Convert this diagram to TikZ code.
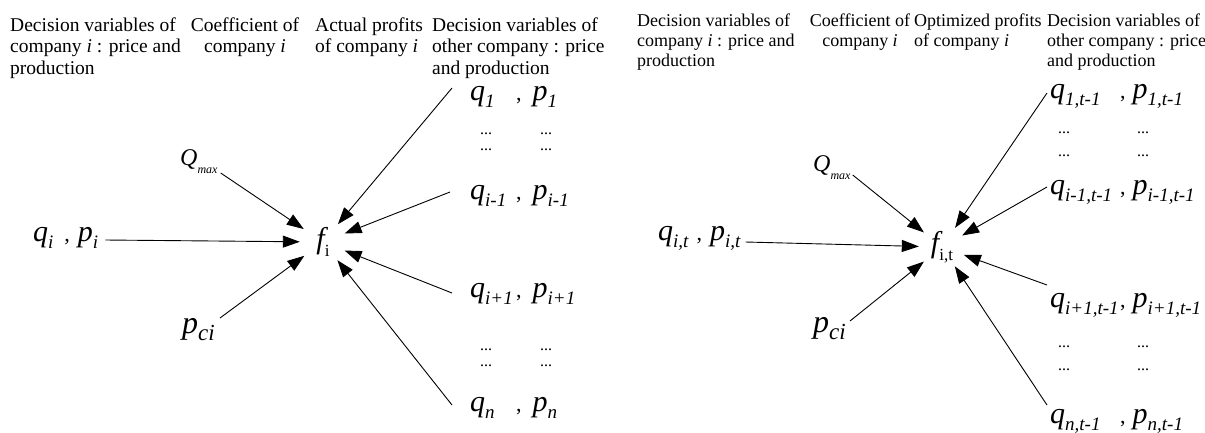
\documentclass[tikz,border=0pt]{standalone}
\usepackage{fontspec}
\setmainfont{Liberation Serif}
\usetikzlibrary{arrows.meta}
\newcommand\mainf{\fontsize{30}{30}\selectfont\itshape}
\newcommand\subf{\fontsize{19}{19}\selectfont\itshape}
\newcommand\qv[1]{{\mainf q}\raisebox{-7pt}{\subf #1}}
\newcommand\pv[1]{{\mainf p}\raisebox{-7pt}{\subf #1}}
\newcommand\cma{{\fontsize{22}{22}\selectfont\upshape ,}}
\newcommand\pairrow[4]{\makebox[#3][l]{\qv{#1}}\cma\hspace{#4}\pv{#2}}
\newcommand\dts{{\fontsize{16}{16}\selectfont ...}}
\newcommand\dotblock[2]{\vtop{\baselineskip=#2\hbox{\makebox[#1][l]{\dts}\dts}\hbox{\makebox[#1][l]{\dts}\dts}}}
\newcommand\fsym[1]{{\mainf f}\raisebox{-8pt}{\fontsize{17}{17}\selectfont\upshape #1}}
\newcommand\Qmx{{\fontsize{24}{24}\selectfont\itshape Q}\raisebox{-8pt}{\fontsize{12}{12}\selectfont\itshape max}}
\newcommand\pci{{\fontsize{32}{32}\selectfont\itshape p}\raisebox{-7pt}{\fontsize{23}{23}\selectfont\itshape ci}}
\tikzset{
  lbl/.style={inner sep=0pt, anchor=base west},
  fnode/.style={circle, minimum size=46pt, inner sep=0pt},
  arr/.style={-{Triangle[length=17pt,width=12pt]}, line width=0.9pt},
  hdrA/.style={inner sep=0pt, font=\fontsize{19.5}{21.5}\selectfont},
  hdrB/.style={inner sep=0pt, font=\fontsize{18}{20}\selectfont},
}
\begin{document}
\begin{tikzpicture}[x=1pt,y=-1pt]
\useasboundingbox (0,0) rectangle (1205,432);
% ---------- left headers
\node[hdrA, anchor=base west] (hA1) at (10,31) {\vtop{\baselineskip=21.5pt\hbox{Decision variables of}\hbox{company \textit{i} : price and}\hbox{production}}};
\node[hdrA, anchor=base] (hA2) at (245,31) {\vtop{\baselineskip=21.5pt\halign{\hfil#\hfil\cr Coefficient of\cr company \textit{i}\cr}}};
\node[hdrA, anchor=base west] (hA3) at (315,31) {\vtop{\baselineskip=21.5pt\hbox{Actual profits}\hbox{of company \textit{i}}}};
\node[hdrA, anchor=base west] (hA4) at (432,31) {\vtop{\baselineskip=21.5pt\hbox{Decision variables of}\hbox{other company : price}\hbox{and production}}};
% ---------- right headers
\node[hdrB, anchor=base west] (hB1) at (637,26) {\vtop{\baselineskip=20pt\hbox{Decision variables of}\hbox{company \textit{i} : price and}\hbox{production}}};
\node[hdrB, anchor=base] (hB2) at (860,26) {\vtop{\baselineskip=20pt\halign{\hfil#\hfil\cr Coefficient of\cr company \textit{i}\cr}}};
\node[hdrB, anchor=base west] (hB3) at (914,26) {\vtop{\baselineskip=20pt\hbox{Optimized profits}\hbox{of company \textit{i}}}};
\node[hdrB, anchor=base west] (hB4) at (1047,26) {\vtop{\baselineskip=20pt\hbox{Decision variables of}\hbox{other company : price}\hbox{and production}}};

% ---------- left diagram
\node[fnode] (f1) at (323,242) {\fsym{i}};
\node[lbl] (in1) at (33,241) {\qv{i}\hspace{11pt}\cma\hspace{8pt}\pv{i}};
\node[lbl] (Q1) at (180,165) {\Qmx};
\node[lbl] (pc1) at (182,333) {\pci};
\node[lbl] (a1) at (470,100) {\pairrow{1}{1}{46pt}{11pt}};
\node[lbl] (da1) at (480,134) {\dotblock{60pt}{16pt}};
\node[lbl] (a2) at (470,199) {\pairrow{i-1}{i-1}{46pt}{11pt}};
\node[lbl] (a3) at (470,297) {\pairrow{i+1}{i+1}{46pt}{11pt}};
\node[lbl] (da2) at (480,350) {\dotblock{60pt}{16pt}};
\node[lbl] (a4) at (470,411) {\pairrow{n}{n}{46pt}{11pt}};

\draw[arr] ([xshift=7pt,yshift=1pt]in1.base east) -- (f1);
\draw[arr] ([xshift=3pt,yshift=-8pt]Q1.base east) -- (f1);
\draw[arr] ([xshift=5pt,yshift=15pt]pc1.base east) -- (f1);
\draw[arr] ([xshift=-18pt,yshift=12pt]a1.base west) -- (f1);
\draw[arr] ([xshift=-20pt,yshift=7pt]a2.base west) -- (f1);
\draw[arr] ([xshift=-18pt,yshift=4pt]a3.base west) -- (f1);
\draw[arr] ([xshift=-18pt,yshift=6pt]a4.base west) -- (f1);

% ---------- right diagram
\node[fnode] (f2) at (942,247) {\fsym{i,t}};
\node[lbl] (in2) at (658,240) {\qv{i,t}\hspace{8pt}\cma\hspace{8pt}\pv{i,t}};
\node[lbl] (Q2) at (813,171) {\Qmx};
\node[lbl] (pc2) at (813,332) {\pci};
\node[lbl] (b1) at (1050,98) {\pairrow{1,t-1}{1,t-1}{70pt}{7pt}};
\node[lbl] (db1) at (1058,133) {\dotblock{79pt}{23pt}};
\node[lbl] (b2) at (1050,194) {\pairrow{i-1,t-1}{i-1,t-1}{70pt}{7pt}};
\node[lbl] (b3) at (1050,307) {\pairrow{i+1,t-1}{i+1,t-1}{70pt}{7pt}};
\node[lbl] (db2) at (1058,347) {\dotblock{79pt}{23pt}};
\node[lbl] (b4) at (1050,423) {\pairrow{n,t-1}{n,t-1}{70pt}{7pt}};

\draw[arr] ([xshift=5pt,yshift=-2pt]in2.base east) -- (f2);
\draw[arr] ([xshift=2pt,yshift=-4pt]Q2.base east) -- (f2);
\draw[arr] ([xshift=4pt,yshift=11pt]pc2.base east) -- (f2);
\draw[arr] ([xshift=-3pt,yshift=5pt]b1.base west) -- (f2);
\draw[arr] ([xshift=-3pt,yshift=7pt]b2.base west) -- (f2);
\draw[arr] ([xshift=-3pt,yshift=22pt]b3.base west) -- (f2);
\draw[arr] ([xshift=-3pt,yshift=18pt]b4.base west) -- (f2);
\end{tikzpicture}
\end{document}
